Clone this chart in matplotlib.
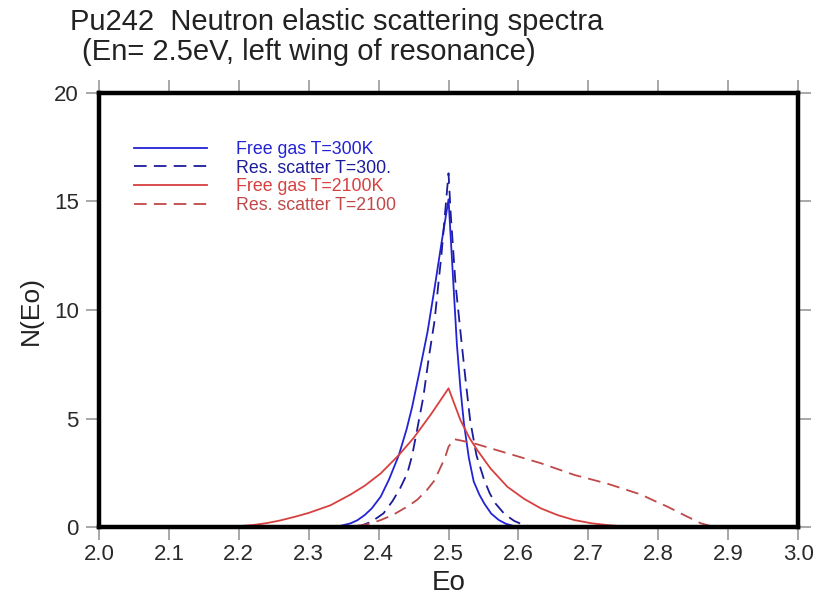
import matplotlib
matplotlib.use("Agg")
import matplotlib.pyplot as plt

plt.rcParams["font.family"] = ["Liberation Sans", "DejaVu Sans"]

# Free gas T=300K
fg300_x = [2.0, 2.33, 2.345, 2.36, 2.37, 2.38, 2.39, 2.403, 2.415, 2.429, 2.44, 2.448,
           2.46, 2.47, 2.48, 2.49, 2.5,
           2.505, 2.512, 2.517, 2.522, 2.529, 2.536, 2.544, 2.551, 2.561, 2.572,
           2.582, 2.593, 2.61, 3.0]
fg300_y = [0.0, 0.0, 0.05, 0.17, 0.32, 0.55, 0.85, 1.4, 2.2, 3.32, 4.5, 5.54,
           7.4, 9.0, 11.0, 13.1, 15.1,
           12.3, 8.4, 6.4, 4.78, 3.2, 2.1, 1.5, 1.09, 0.62, 0.32,
           0.15, 0.05, 0.0, 0.0]

# Res. scatter T=300
rs300_x = [2.0, 2.36, 2.374, 2.39, 2.407, 2.42, 2.431, 2.441, 2.448, 2.455, 2.464,
           2.472, 2.48, 2.49, 2.5,
           2.503, 2.51, 2.519, 2.525, 2.531, 2.54, 2.551, 2.559, 2.567, 2.58,
           2.594, 2.607, 2.62, 3.0]
rs300_y = [0.0, 0.0, 0.05, 0.25, 0.63, 1.2, 1.8, 2.47, 3.3, 4.47, 6.0,
           7.85, 9.5, 12.6, 16.3,
           14.5, 11.2, 8.4, 6.6, 4.9, 3.3, 2.17, 1.55, 1.09, 0.6,
           0.28, 0.1, 0.0, 0.0]

# Free gas T=2100K
fg2100_x = [2.0, 2.15, 2.2, 2.22, 2.24, 2.259, 2.28, 2.3, 2.331, 2.36, 2.38, 2.403,
            2.429, 2.45, 2.475, 2.5,
            2.517, 2.53, 2.541, 2.56, 2.584, 2.608, 2.632, 2.656, 2.68, 2.705,
            2.727, 2.75, 2.78, 3.0]
fg2100_y = [0.0, 0.0, 0.04, 0.09, 0.18, 0.3, 0.47, 0.65, 1.0, 1.5, 1.9, 2.47,
            3.32, 4.1, 5.2, 6.39,
            4.93, 4.1, 3.55, 2.7, 1.86, 1.3, 0.86, 0.55, 0.32, 0.17,
            0.09, 0.03, 0.0, 0.0]

# Res. scatter T=2100
rs2100_x = [2.0, 2.34, 2.36, 2.378, 2.39, 2.403, 2.42, 2.441, 2.455, 2.469, 2.48,
            2.489, 2.495, 2.5, 2.508,
            2.536, 2.584, 2.632, 2.68, 2.727, 2.775, 2.795, 2.813, 2.837, 2.861,
            2.88, 3.0]
rs2100_y = [0.0, 0.0, 0.03, 0.09, 0.18, 0.32, 0.55, 0.94, 1.25, 1.7, 2.15,
            2.78, 3.2, 3.7, 4.05,
            3.86, 3.4, 2.94, 2.4, 2.0, 1.5, 1.2, 0.94, 0.55, 0.17,
            0.0, 0.0]

x_ticks = [2.0, 2.1, 2.2, 2.3, 2.4, 2.5, 2.6, 2.7, 2.8, 2.9, 3.0]
y_ticks = [0, 5, 10, 15, 20]


def main():
    fig = plt.figure(figsize=(8.27, 5.98), dpi=100)
    ax = fig.add_axes([0.1197, 0.1187, 0.8453, 0.7258])

    lw = 1.3
    ax.plot(fg300_x, fg300_y, color="#2323d6", lw=lw, label="Free gas T=300K")
    ax.plot(rs300_x, rs300_y, color="#1c1c9a", lw=lw, dashes=(7, 4),
            label="Res. scatter T=300.")
    ax.plot(fg2100_x, fg2100_y, color="#d84040", lw=lw, label="Free gas T=2100K")
    ax.plot(rs2100_x, rs2100_y, color="#c04848", lw=lw, dashes=(7, 4),
            label="Res. scatter T=2100")

    ax.set_xlim(2.0, 3.0)
    ax.set_ylim(0, 20)
    ax.set_xticks(x_ticks)
    ax.set_xticklabels([f"{t:.1f}" for t in x_ticks])
    ax.set_yticks(y_ticks)

    for s in ax.spines.values():
        s.set_linewidth(3.2)
        s.set_color("black")

    ax.tick_params(axis="both", direction="out", length=9.5, width=1.2,
                   color="#9a9a9a", labelsize=16, labelcolor="#2a2a2a",
                   top=True, right=True)
    ax.tick_params(axis="x", labeltop=False, pad=3)
    ax.tick_params(axis="y", labelright=False, pad=5)

    ax.set_xlabel("Eo", fontsize=20, color="#222222", labelpad=3)
    ax.set_ylabel("N(Eo)", fontsize=19, color="#222222", labelpad=8)

    fig.text(0.0846, 0.95, "Pu242  Neutron elastic scattering spectra",
             fontsize=21, color="#222222", ha="left", va="baseline")
    fig.text(0.099, 0.899, "(En= 2.5eV, left wing of resonance)",
             fontsize=21, color="#222222", ha="left", va="baseline")

    ax.legend(loc="upper left", bbox_to_anchor=(0.05, 0.89), frameon=False,
              fontsize=12.8, handlelength=4.1, handletextpad=1.65,
              labelspacing=0.1, borderpad=0, borderaxespad=0,
              labelcolor="linecolor")

    fig.savefig("out.png", dpi=100)


if __name__ == "__main__":
    main()
